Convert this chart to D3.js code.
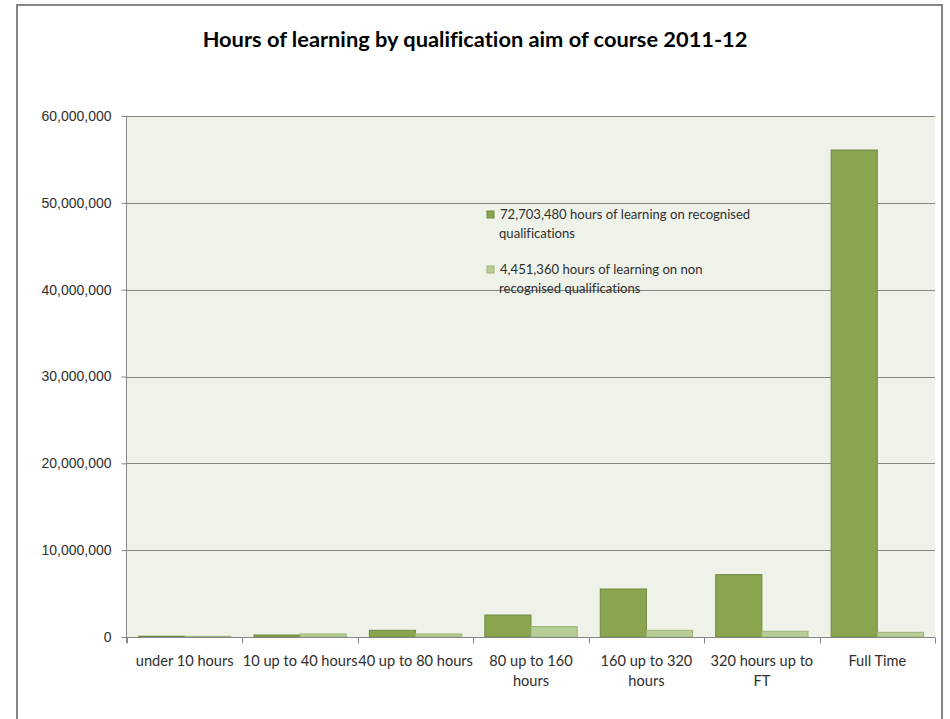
<!DOCTYPE html>
<head>
<meta charset="utf-8">
<script src="https://d3js.org/d3.v7.min.js"></script>
<style>
body {
  margin: 0;
  background-color: #fff;
  font-family: Lato, sans-serif;
  font-variant-ligatures: none;
}
text {
  fill: #2e2e2e;
}
.title {
  font-weight: 700;
  fill: #000;
}
.axis text {
  font-size: 14px;
}
.axis .lbl {
  font-size: 14.6px;
}
.axis path, .axis line {
  stroke: #878787;
}
.grid line {
  stroke: #878787;
}
.legend text {
  font-size: 13.1px;
}
</style>
</head>
<body>
<svg width="950" height="719"></svg>
<script>

// data (hours)
var categories = ["under 10 hours", "10 up to 40 hours", "40 up to 80 hours", "80 up to 160 hours",
                  "160 up to 320 hours", "320 hours up to FT", "Full Time"];
var recognised = [90000, 230000, 770000, 2530000, 5530000, 7180000, 56080000];
var nonRecognised = [70000, 350000, 350000, 1200000, 770000, 660000, 540000];
var seriesNames = ["72,703,480 hours of learning on recognised qualifications",
                   "4,451,360 hours of learning on non recognised qualifications"];
var yTicks = [0, 10000000, 20000000, 30000000, 40000000, 50000000, 60000000];

var colors = ["#89a54e", "#b9cd96"];
var strokes = ["#71893f", "#9bb473"];

var svg = d3.select("svg");

// chart frame
svg.append("rect")
  .attr("x", 17).attr("y", 5)
  .attr("width", 925).attr("height", 730)
  .attr("fill", "#fff")
  .attr("stroke", "#868686")
  .attr("stroke-width", 2);

svg.append("text")
  .attr("class", "title")
  .attr("x", 475).attr("y", 47)
  .attr("text-anchor", "middle")
  .style("font-size", "21.8px")
  .text("Hours of learning by qualification aim of course 2011-12");

var margin = {left: 127, right: 935, top: 116, bottom: 637};

var x = d3.scaleBand()
  .domain(categories)
  .range([margin.left, margin.right])
  .paddingInner(0).paddingOuter(0);

var y = d3.scaleLinear()
  .domain([0, 60000000])
  .range([margin.bottom, margin.top]);

// plot background
svg.append("rect")
  .attr("x", margin.left).attr("y", margin.top)
  .attr("width", margin.right - margin.left)
  .attr("height", margin.bottom - margin.top)
  .attr("fill", "#eff2e9");

// gridlines
svg.append("g")
  .attr("class", "grid")
  .selectAll("line")
  .data(yTicks.slice(1))
  .enter().append("line")
  .attr("x1", margin.left).attr("x2", margin.right)
  .attr("y1", function(d) { return Math.round(y(d)) + 0.5; })
  .attr("y2", function(d) { return Math.round(y(d)) + 0.5; });

// bars
var bw = x.bandwidth() / 2.5;
var groups = svg.append("g")
  .selectAll("g")
  .data(categories)
  .enter().append("g")
  .attr("transform", function(d) { return "translate(" + (x(d) + bw / 4) + ",0)"; });

[recognised, nonRecognised].forEach(function(series, s) {
  groups.append("rect")
    .attr("x", s * bw)
    .attr("y", function(d, i) { return y(series[i]); })
    .attr("width", bw)
    .attr("height", function(d, i) { return y(0) - y(series[i]); })
    .attr("fill", colors[s])
    .attr("stroke", strokes[s])
    .attr("stroke-width", 1);
});

// y axis
var yAxis = svg.append("g")
  .attr("class", "axis")
  .attr("transform", "translate(" + (margin.left - 0.5) + ",0)")
  .call(d3.axisLeft(y).tickValues(yTicks).tickSize(5).tickPadding(10)
    .tickFormat(d3.format(",")));
yAxis.select(".domain").attr("d", "M0," + margin.top + "V" + (margin.bottom + 6));

// x axis
var xAxis = svg.append("g")
  .attr("class", "axis")
  .attr("transform", "translate(0," + (margin.bottom + 0.5) + ")");
xAxis.append("line")
  .attr("x1", margin.left).attr("x2", margin.right);
xAxis.selectAll(".tk")
  .data(categories.concat([null]))
  .enter().append("line")
  .attr("class", "tk")
  .attr("x1", function(d, i) { return Math.round(margin.left + i * x.step()) + 0.5; })
  .attr("x2", function(d, i) { return Math.round(margin.left + i * x.step()) + 0.5; })
  .attr("y1", 0).attr("y2", 6);

xAxis.selectAll(".lbl")
  .data(categories)
  .enter().append("text")
  .attr("class", "lbl")
  .attr("text-anchor", "middle")
  .attr("y", 28)
  .each(function(d) { wrap(d3.select(this), d, x(d) + x.bandwidth() / 2, x.bandwidth() + 4); });

function wrap(sel, str, cx, maxW) {
  var words = str.split(" "), line = [], lines = [];
  var probe = sel.append("tspan");
  words.forEach(function(w) {
    line.push(w);
    probe.text(line.join(" "));
    if (probe.node().getComputedTextLength() > maxW && line.length > 1) {
      line.pop();
      lines.push(line.join(" "));
      line = [w];
    }
  });
  lines.push(line.join(" "));
  probe.remove();
  lines.forEach(function(l, i) {
    sel.append("tspan").attr("x", cx).attr("dy", i ? 20 : 0).text(l);
  });
}

// legend
var legend = svg.append("g")
  .attr("class", "legend")
  .selectAll("g")
  .data(seriesNames)
  .enter().append("g")
  .attr("transform", function(d, i) { return "translate(487," + (211 + i * 55) + ")"; });

legend.append("rect")
  .attr("width", 7).attr("height", 7)
  .attr("fill", function(d, i) { return colors[i]; })
  .attr("stroke", function(d, i) { return strokes[i]; });

legend.each(function(d) {
  var g = d3.select(this);
  var cut = d.indexOf("non") < 0 ? d.lastIndexOf(" ") : d.indexOf(" recognised");
  g.append("text").attr("x", 13).attr("y", 8).text(d.slice(0, cut));
  g.append("text").attr("x", 12).attr("y", 27).text(d.slice(cut + 1));
});

</script>
</body>
